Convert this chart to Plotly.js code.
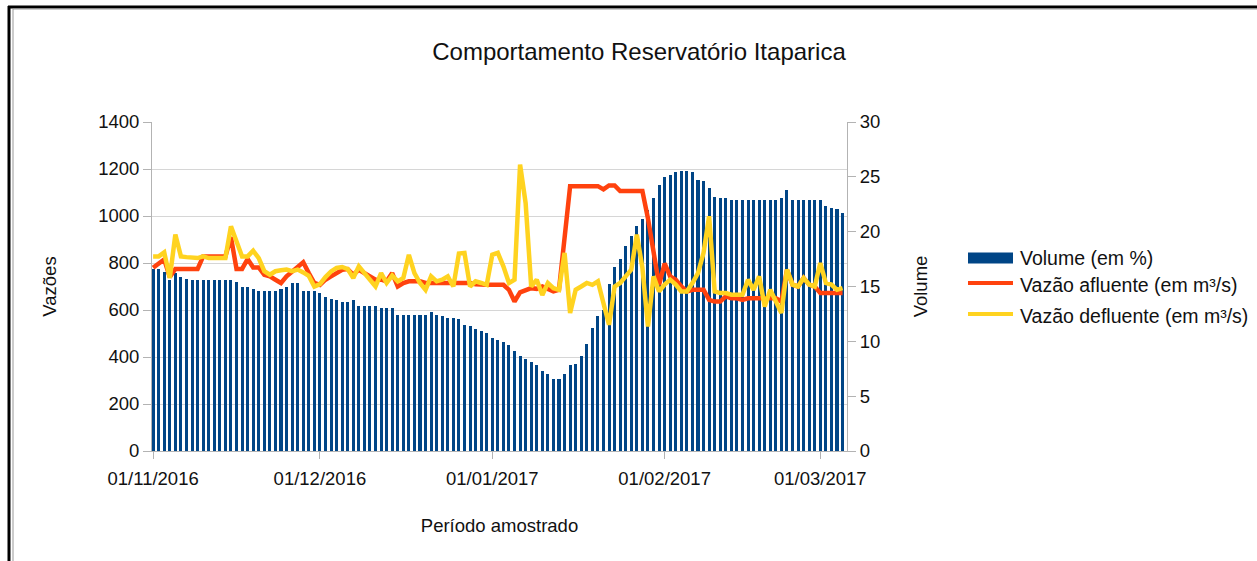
<!DOCTYPE html>
<html><head><meta charset="utf-8">
<script src="https://cdn.plot.ly/plotly-3.0.1.min.js"></script>
<style>html,body{margin:0;padding:0;background:#fff;}#chart{width:1257px;height:561px;}</style>
</head><body><div id="chart"></div>
<script>
const dates = [
'2016-11-01','2016-11-02','2016-11-03','2016-11-04','2016-11-05','2016-11-06','2016-11-07','2016-11-08','2016-11-09','2016-11-10',
'2016-11-11','2016-11-12','2016-11-13','2016-11-14','2016-11-15','2016-11-16','2016-11-17','2016-11-18','2016-11-19','2016-11-20',
'2016-11-21','2016-11-22','2016-11-23','2016-11-24','2016-11-25','2016-11-26','2016-11-27','2016-11-28','2016-11-29','2016-11-30',
'2016-12-01','2016-12-02','2016-12-03','2016-12-04','2016-12-05','2016-12-06','2016-12-07','2016-12-08','2016-12-09','2016-12-10',
'2016-12-11','2016-12-12','2016-12-13','2016-12-14','2016-12-15','2016-12-16','2016-12-17','2016-12-18','2016-12-19','2016-12-20',
'2016-12-21','2016-12-22','2016-12-23','2016-12-24','2016-12-25','2016-12-26','2016-12-27','2016-12-28','2016-12-29','2016-12-30',
'2016-12-31','2017-01-01','2017-01-02','2017-01-03','2017-01-04','2017-01-05','2017-01-06','2017-01-07','2017-01-08','2017-01-09',
'2017-01-10','2017-01-11','2017-01-12','2017-01-13','2017-01-14','2017-01-15','2017-01-16','2017-01-17','2017-01-18','2017-01-19',
'2017-01-20','2017-01-21','2017-01-22','2017-01-23','2017-01-24','2017-01-25','2017-01-26','2017-01-27','2017-01-28','2017-01-29',
'2017-01-30','2017-01-31','2017-02-01','2017-02-02','2017-02-03','2017-02-04','2017-02-05','2017-02-06','2017-02-07','2017-02-08',
'2017-02-09','2017-02-10','2017-02-11','2017-02-12','2017-02-13','2017-02-14','2017-02-15','2017-02-16','2017-02-17','2017-02-18',
'2017-02-19','2017-02-20','2017-02-21','2017-02-22','2017-02-23','2017-02-24','2017-02-25','2017-02-26','2017-02-27','2017-02-28',
'2017-03-01','2017-03-02','2017-03-03','2017-03-04','2017-03-05'
];
const volume = [
16.6,16.6,16.3,15.6,16.2,15.9,15.7,15.6,15.6,15.6,
15.6,15.6,15.6,15.6,15.6,15.4,15.0,15.0,14.8,14.6,
14.6,14.6,14.6,14.8,15.0,15.3,15.3,14.6,14.6,14.6,
14.4,14.0,13.9,13.8,13.6,13.6,13.8,13.2,13.2,13.2,
13.2,13.0,13.0,13.0,12.4,12.4,12.4,12.4,12.4,12.4,
12.7,12.4,12.3,12.1,12.1,12.0,11.5,11.4,11.1,10.9,
10.8,10.3,10.1,9.9,9.7,9.1,8.7,8.4,8.1,7.8,
7.3,7.0,6.6,6.6,7.0,7.8,7.9,8.7,9.8,11.2,
12.3,12.9,15.2,16.8,17.5,18.7,19.6,20.5,21.2,22.0,
23.1,24.3,25.0,25.2,25.4,25.5,25.5,25.4,24.7,24.6,
24.0,23.2,23.1,23.1,22.9,22.9,22.9,22.9,22.9,22.9,
22.9,22.9,22.9,23.1,23.8,22.9,22.9,22.9,22.9,22.9,
22.9,22.3,22.2,22.1,21.7
];
const vazaoAfluente = [
780,800,815,740,775,775,775,775,775,828,
828,828,828,828,910,775,775,817,781,781,
750,743,729,715,743,764,779,803,757,715,
707,729,743,757,771,774,750,771,757,743,
729,729,722,757,700,715,722,722,722,715,
715,715,715,715,715,715,715,715,710,707,
707,707,707,707,686,636,675,686,693,690,
700,690,679,686,906,1127,1127,1127,1127,1127,
1127,1113,1130,1130,1106,1106,1106,1106,1106,990,
840,707,798,743,729,700,679,686,686,686,
643,636,636,658,650,650,643,650,650,650,
650,650,650,636,771,708,700,736,708,700,
672,672,672,672,672
];
const vazaoDefluente = [
828,828,845,736,921,828,825,821,821,828,
821,821,821,821,956,892,828,828,852,821,
765,750,765,769,772,765,772,760,745,700,
710,740,764,779,783,774,736,786,757,729,
700,757,715,747,722,736,835,757,715,686,
743,722,729,743,700,840,843,700,722,715,
707,835,843,786,715,729,1219,1055,700,729,
664,715,693,686,843,587,686,700,715,707,
722,629,537,700,715,743,772,921,780,530,
743,679,708,729,708,679,679,715,757,843,
999,679,672,672,665,665,665,729,686,743,
615,686,637,587,772,708,700,736,708,700,
800,715,708,686,693
];
const tickDates = ['2016-11-01','2016-12-01','2017-01-01','2017-02-01','2017-03-01'];
const tickLabels = ['01/11/2016','01/12/2016','01/01/2017','01/02/2017','01/03/2017'];
const seriesNames = ['Volume (em %)','Vazão afluente (em m³/s)','Vazão defluente (em m³/s)'];
const colors = ['#004586','#ff420e','#ffd320'];

const FONT = '"Liberation Sans", Arial, sans-serif';
const L = 152, R = 847, T = 122, B = 451;
const W = 1257, H = 561;
const px = x => (x - L) / (R - L);
const py = y => (B - y) / (B - T);

const traces = [
  {type:'bar', x: dates, y: volume, name: seriesNames[0], yaxis:'y', xaxis:'x',
   marker:{color: colors[0], line:{width:0}}, width: 0.55*86400000, showlegend:false},
  {type:'scatter', mode:'lines', x: dates, y: vazaoAfluente, name: seriesNames[1], yaxis:'y2',
   line:{color: colors[1], width:4.5, shape:'linear'}, showlegend:false},
  {type:'scatter', mode:'lines', x: dates, y: vazaoDefluente, name: seriesNames[2], yaxis:'y2',
   line:{color: colors[2], width:4.5, shape:'linear'}, showlegend:false}
];

const tickFont = {family: FONT, size: 18.5, color: '#111'};
const titleFont = {family: FONT, size: 18.5, color: '#111'};

const shapes = [
  {type:'line', xref:'paper', yref:'paper', x0: px(8), x1: px(1260), y0: py(7), y1: py(7), line:{color:'#000', width:3}},
  {type:'line', xref:'paper', yref:'paper', x0: px(9), x1: px(9), y0: py(6), y1: py(565), line:{color:'#000', width:3}},
  {type:'line', xref:'paper', yref:'paper', x0: px(13), x1: px(13), y0: py(9), y1: py(565), line:{color:'#999', width:1}},
  {type:'line', xref:'paper', yref:'paper', x0: px(13), x1: px(1260), y0: py(9), y1: py(9), line:{color:'#999', width:1}},
  {type:'rect', xref:'paper', yref:'paper', x0: px(968), x1: px(1013), y0: py(263.5), y1: py(252.5), fillcolor: colors[0], line:{width:0}},
  {type:'line', xref:'paper', yref:'paper', x0: px(968), x1: px(1013), y0: py(283), y1: py(283), line:{color: colors[1], width:4}},
  {type:'line', xref:'paper', yref:'paper', x0: px(968), x1: px(1013), y0: py(314), y1: py(314), line:{color: colors[2], width:4}}
];
const legendY = [258, 285, 316];
const annotations = seriesNames.map((n, i) => ({
  xref:'paper', yref:'paper', x: px(1018), y: py(legendY[i]), xanchor:'left', yanchor:'middle',
  text: n, showarrow:false, font:{family: FONT, size: 19.5, color:'#111'}
}));

const layout = {
  width: W, height: H,
  margin: {l: L, r: W - R, t: T, b: H - B, pad: 0},
  paper_bgcolor: '#fff', plot_bgcolor: '#fff',
  showlegend: false,
  bargap: 0,
  title: {text: 'Comportamento Reservatório Itaparica', font:{family: FONT, size: 24, color:'#111'},
          xref:'container', yref:'container', x: 639/W, y: 1 - 52/H, xanchor:'center', yanchor:'middle'},
  xaxis: {type:'date', range:['2016-10-31 19:12','2017-03-05 19:12'],
          tickmode:'array', tickvals: tickDates, ticktext: tickLabels,
          ticks:'outside', ticklen:7, tickcolor:'#b3b3b3', showline:true, linecolor:'#b3b3b3', linewidth:1,
          showgrid:false, zeroline:false, tickfont: tickFont, ticklabelstandoff: 4,
          title:{text:'Período amostrado', font: titleFont, standoff: 30}, automargin:false},
  yaxis: {range:[0,30], dtick:5, side:'right', showgrid:false, zeroline:false,
          ticks:'outside', ticklen:8, tickcolor:'#b3b3b3', showline:true, linecolor:'#b3b3b3',
          tickfont: tickFont, title:{text:'Volume', font: titleFont, standoff: 34}, automargin:false},
  yaxis2: {range:[0,1400], dtick:200, side:'left', overlaying:'y', showgrid:true, gridcolor:'#d6d6d6',
          zeroline:false, ticks:'outside', ticklen:8, tickcolor:'#b3b3b3', showline:true, linecolor:'#b3b3b3',
          tickfont: tickFont, title:{text:'Vazões', font: titleFont, standoff: 36}, automargin:false},
  shapes: shapes,
  annotations: annotations
};

Plotly.newPlot('chart', traces, layout, {staticPlot:true, displayModeBar:false});
</script></body></html>
